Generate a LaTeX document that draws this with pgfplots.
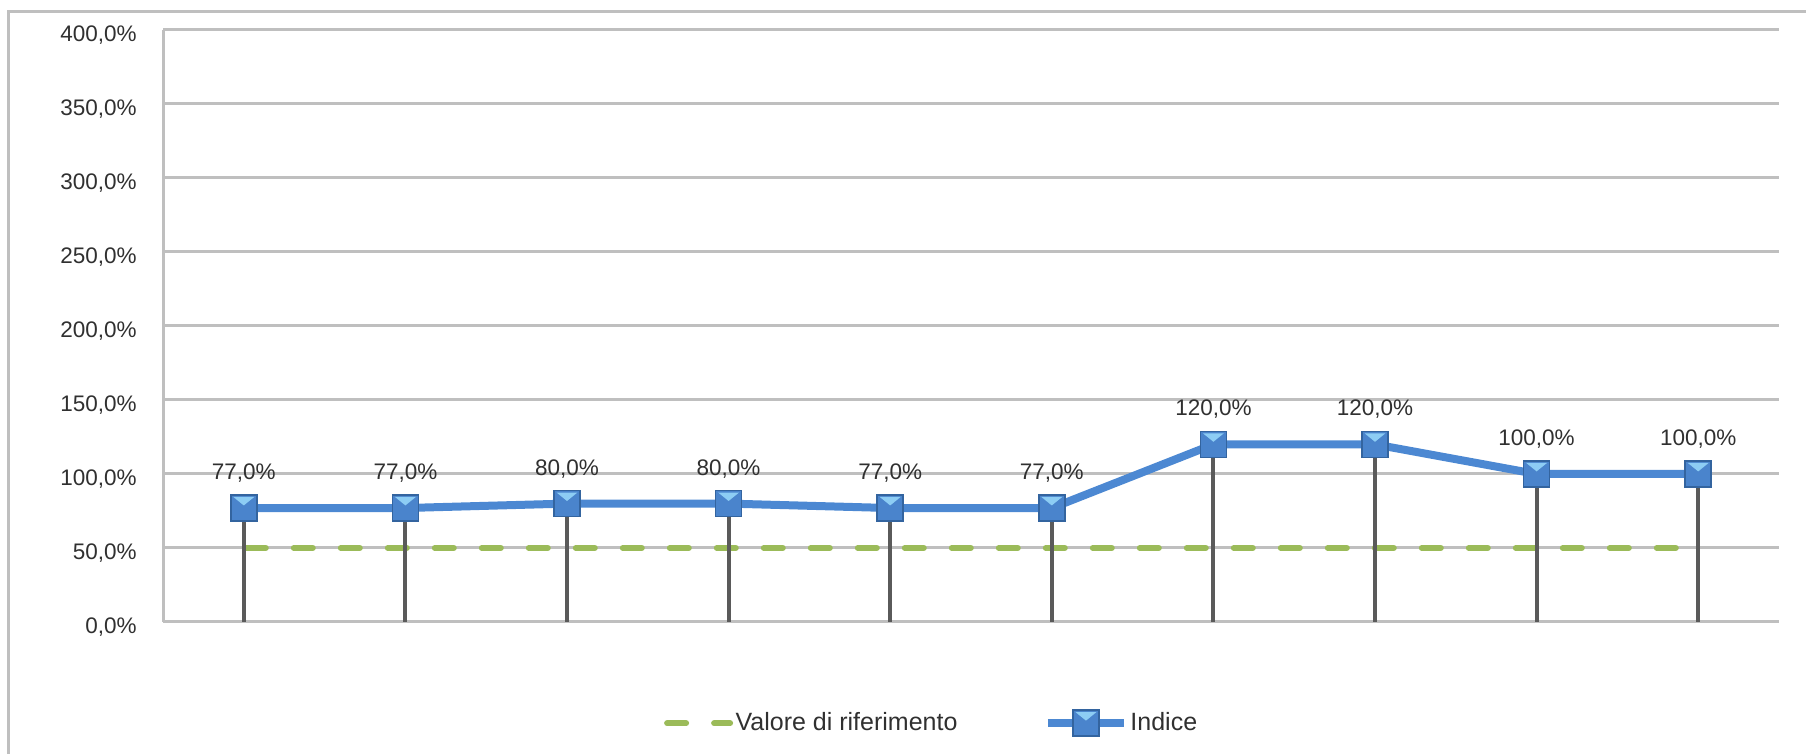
\documentclass[border=0pt]{standalone}
\usepackage{pgfplots}
\usepackage{pgfplotstable}
\pgfplotsset{compat=1.18}
\usepackage{fontspec}
\setmainfont{Liberation Sans}

\definecolor{gridgray}{HTML}{BFBFBF}
\definecolor{stemgray}{HTML}{5A5A5A}
\definecolor{refgreen}{HTML}{9BBB59}
\definecolor{idxblue}{HTML}{4C88D2}
\definecolor{markblue}{HTML}{4A84CC}
\definecolor{markedge}{HTML}{33649F}
\definecolor{marklight}{HTML}{8DCDF4}
\definecolor{labelgray}{HTML}{303030}

% square marker with a light bevel triangle on its top edge
\pgfdeclareplotmark{xlsquare}{%
  \pgfpathrectangle{\pgfpoint{-\pgfplotmarksize}{-\pgfplotmarksize}}%
                   {\pgfpoint{2\pgfplotmarksize}{2\pgfplotmarksize}}%
  \pgfusepathqfillstroke
  \begin{pgfscope}
    \pgfsetfillcolor{marklight}
    \pgfpathmoveto{\pgfpoint{-0.8\pgfplotmarksize}{0.85\pgfplotmarksize}}
    \pgfpathlineto{\pgfpoint{0.8\pgfplotmarksize}{0.85\pgfplotmarksize}}
    \pgfpathlineto{\pgfpoint{0pt}{0.2\pgfplotmarksize}}
    \pgfpathclose
    \pgfusepathqfill
  \end{pgfscope}
}

% legend samples
\pgfplotsset{
  refleg/.style={legend image code/.code={%
    \draw[##1, dash pattern=on 9.5pt off 14pt] (1.5pt,0pt) -- (34.5pt,0pt);}},
  idxleg/.style={legend image code/.code={%
    \draw[mark repeat=2, mark phase=2, ##1]
      plot coordinates {(0pt,0pt) (19pt,0pt) (38pt,0pt)};}},
}

% index values (percent)
\pgfplotstableread{
x y
0 77
1 77
2 80
3 80
4 77
5 77
6 120
7 120
8 100
9 100
}\indice

% reference value (percent)
\pgfplotstableread{
x y
0 50
1 50
2 50
3 50
4 50
5 50
6 50
7 50
8 50
9 50
}\riferimento

\begin{document}
\begin{tikzpicture}
\useasboundingbox (0,0) rectangle (903pt,377pt);
% chart area frame
\draw[gridgray, line width=1.5pt] (4pt,-5pt) -- (4pt,371pt) -- (910pt,371pt);
\begin{axis}[
  at={(81.5pt,66pt)}, anchor=south west,
  scale only axis, width=808pt, height=296pt,
  xmin=-0.5, xmax=9.5, ymin=0, ymax=400,
  xtick=\empty, ytick={0,50,...,400},
  axis x line*=bottom, axis y line*=left,
  axis line style={gridgray, line width=1.5pt},
  ymajorgrids, grid style={gridgray, line width=1.5pt},
  major tick length=0pt, tick style={draw=none},
  /pgf/number format/assume math mode=true,
  yticklabel={\pgfmathprintnumber[fixed,fixed zerofill,precision=1,use comma]{\tick}\%},
  yticklabel style={font=\fontsize{11.25}{13}\selectfont, text=labelgray,
                    anchor=east, inner sep=0pt, xshift=-13pt, yshift=-2.5pt},
  clip=false,
  legend columns=2,
  legend cell align=left,
  legend style={at={(0.308,-0.171)}, anchor=west, draw=none, fill=none,
                inner sep=0pt, font=\fontsize{12.5}{14}\selectfont, text=labelgray,
                nodes={inner sep=1.25pt},
                /tikz/every even column/.append style={column sep=42pt}},
]
\addplot[refgreen, line width=3pt, line cap=round, dash pattern=on 9.5pt off 14pt,
  dash phase=-1.5pt, refleg]
  table {\riferimento};
\addlegendentry{Valore di riferimento}

\addplot[idxblue, line width=4pt, mark=xlsquare, mark size=6.5pt,
  mark options={fill=markblue, draw=markedge, line width=0.8pt, line cap=butt}, idxleg]
  table {\indice};
\addlegendentry{Indice}

% drop lines from each point to the axis
\addplot[ycomb, stemgray, line width=2pt, no marks, forget plot] table {\indice};

% value labels
\addplot[draw=none, no marks, forget plot,
  nodes near coords={\pgfmathprintnumber[fixed,fixed zerofill,precision=1,use comma]{\pgfplotspointmeta}\%},
  every node near coord/.append style={anchor=center, yshift=17.5pt, inner sep=0pt,
     font=\fontsize{11.25}{13}\selectfont, text=labelgray}]
  table {\indice};
\end{axis}
\end{tikzpicture}
\end{document}
